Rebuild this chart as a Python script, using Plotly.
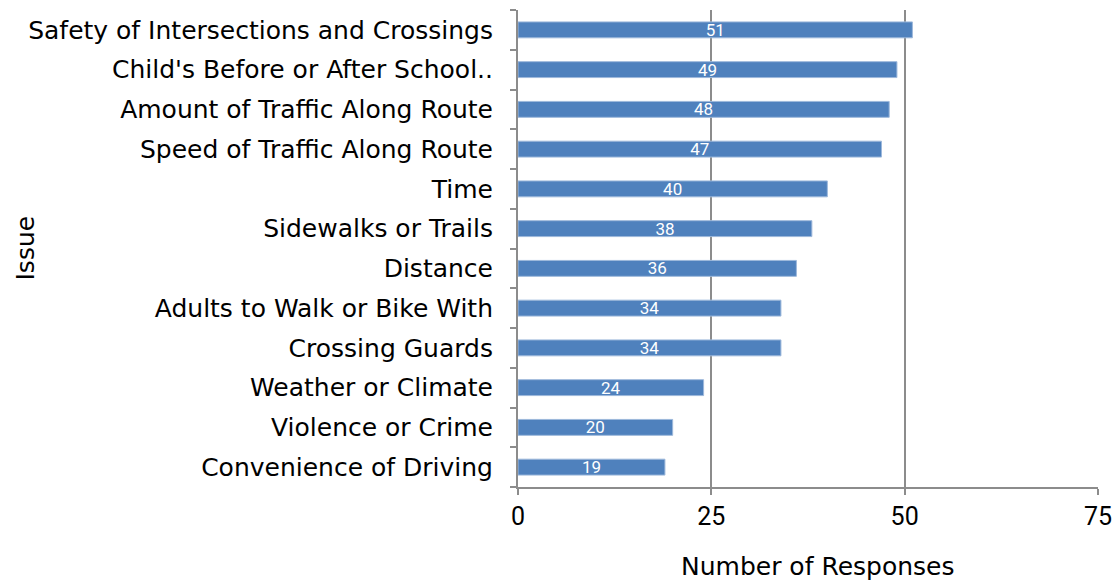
import plotly.graph_objects as go

# Survey data
issues = [
    "Safety of Intersections and Crossings",
    "Child's Before or After School..",
    "Amount of Traffic Along Route",
    "Speed of Traffic Along Route",
    "Time",
    "Sidewalks or Trails",
    "Distance",
    "Adults to Walk or Bike With",
    "Crossing Guards",
    "Weather or Climate",
    "Violence or Crime",
    "Convenience of Driving",
]
responses = [51, 49, 48, 47, 40, 38, 36, 34, 34, 24, 20, 19]
x_ticks = [0, 25, 50, 75]

font_family = "DejaVu Sans, sans-serif"
narrow_family = "Liberation Sans Narrow, Roboto, sans-serif"

W, H = 1115, 582
L, R, T, B = 518, 17, 10, 95
plot_w = W - L - R
plot_h = H - T - B

fig = go.Figure()
fig.add_trace(go.Bar(
    x=responses,
    y=issues,
    orientation='h',
    marker_color='#4F81BD',
    marker_line=dict(color='#9DB8DB', width=1),
    width=0.4,
    text=responses,
    textposition='inside',
    insidetextanchor='middle',
    textangle=0,
    constraintext='none',
    textfont=dict(color='white', size=17, family=narrow_family),
))

fig.update_layout(
    width=W,
    height=H,
    margin=dict(l=L, r=R, t=T, b=B, autoexpand=False),
    plot_bgcolor='white',
    paper_bgcolor='white',
    showlegend=False,
    font=dict(family=font_family, color='black'),
    annotations=[
        dict(text='Issue', textangle=-90,
             x=(25 - L) / plot_w, xref='paper', xanchor='center',
             y=0.5, yref='paper', yanchor='middle',
             showarrow=False, font=dict(size=25)),
        dict(text='Number of Responses',
             x=(818 - L) / plot_w, xref='paper', xanchor='center',
             y=(T + plot_h - 566) / plot_h, yref='paper', yanchor='middle',
             showarrow=False, font=dict(size=25)),
    ],
)

fig.update_xaxes(
    range=[0, 75],
    tickvals=x_ticks,
    showgrid=True,
    gridcolor='#8C8C8C',
    gridwidth=2,
    showline=True,
    linecolor='#8C8C8C',
    linewidth=2,
    ticks='outside',
    ticklen=6,
    tickcolor='#8C8C8C',
    tickwidth=2,
    tickfont=dict(size=25, family=narrow_family),
    zeroline=False,
    automargin=False,
)

fig.update_yaxes(
    categoryorder='array',
    categoryarray=issues[::-1],
    showline=True,
    linecolor='#8C8C8C',
    linewidth=2,
    ticks='outside',
    tickson='boundaries',
    ticklen=6,
    tickcolor='#8C8C8C',
    tickwidth=2,
    tickfont=dict(size=25),
    ticklabelstandoff=18,
    showgrid=False,
    automargin=False,
)

# drop the default body margin so the figure fills the window exactly
fig.write_html("out.html", config={'displayModeBar': False},
               post_script="document.body.style.margin='0';")
